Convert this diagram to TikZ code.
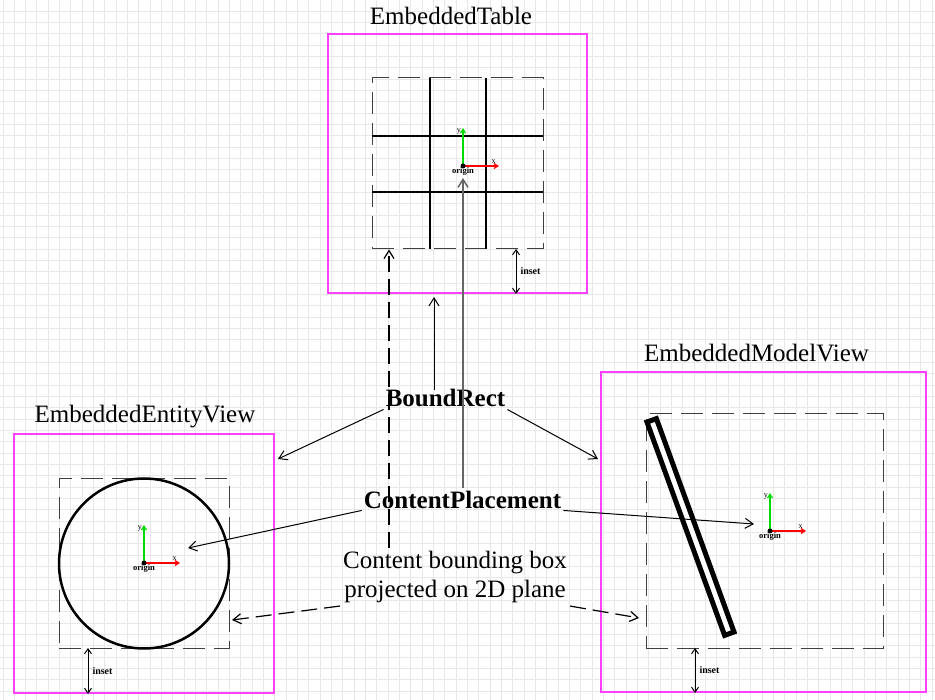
\documentclass[tikz,border=0pt]{standalone}
\usepackage{fontspec}
\setmainfont{Liberation Serif}
\usepackage{xcolor}
\usetikzlibrary{arrows.meta}
\definecolor{mypink}{RGB}{255,64,255}
\definecolor{mygreen}{RGB}{0,220,0}
\definecolor{mygrid}{RGB}{232,232,232}

\tikzset{
  gridln/.style={draw=mygrid,line width=1},
  frame/.style={draw=mypink,line width=2,inner sep=0},
  bbox/.style={draw=black!75,line width=1,dash pattern=on 22pt off 9pt,inner sep=0},
  ttl/.style={font=\fontsize{25}{30}\selectfont,anchor=base},
  big/.style={font=\bfseries\fontsize{25}{30}\selectfont,inner sep=2pt,anchor=base},
  arr/.style={-{Straight Barb[length=8pt,width=10pt]},line width=1},
  darr/.style={arr,dash pattern=on 16pt off 7pt,line width=1.2},
  inset/.style={{Straight Barb[length=5pt,width=7pt]}-{Straight Barb[length=5pt,width=7pt]},line width=1},
  insetlbl/.style={font=\bfseries\fontsize{10}{12}\selectfont,right,inner sep=4pt},
  xaxis/.style={-{Straight Barb[length=4pt,width=5pt]},red,line width=1.2},
  yaxis/.style={-{Straight Barb[length=4pt,width=5pt]},mygreen,line width=1.2},
  axlbl/.style={font=\fontsize{8}{9}\selectfont,text=black,inner sep=1.5pt},
  orglbl/.style={font=\bfseries\fontsize{8.5}{10}\selectfont,below,inner sep=1pt},
  cell/.style={line width=2.5},
  rod/.style={draw,line width=5,fill=white,minimum width=227,minimum height=10,inner sep=0}
}

\newcommand{\localaxes}[1]{%
  \draw[xaxis] (#1) -- ++(36,0) node[axlbl,pos=0.85,above] (#1x) {x};
  \draw[yaxis] (#1) -- ++(0,-38) node[axlbl,pos=0.9,left] (#1y) {y};
  \fill (#1) circle (2.5pt);
  \node[orglbl] (#1lbl) at (#1) {origin};
}

\begin{document}
\begin{tikzpicture}[x=1pt,y=-1pt]
\useasboundingbox (0,0) rectangle (935,700);
\foreach \i in {0,...,82} \draw[gridln] ({3+\i*11.333},0) -- ({3+\i*11.333},700);
\foreach \j in {0,...,61} \draw[gridln] (0,{\j*11.333}) -- (935,{\j*11.333});

\node[frame,minimum width=259,minimum height=259] (tbl) at (457.5,163.5) {};
\node[ttl] (tblname) at (451,25) {EmbeddedTable};
\node[bbox,minimum width=171,minimum height=171] (tblc) at (457.5,163.5) {};
\foreach \gx in {430,486} \draw[cell] (\gx,78) -- (\gx,249);
\foreach \gy in {136,192} \draw[cell] (372,\gy) -- (543,\gy);
\coordinate (tblO) at (463,166);
\localaxes{tblO}
\coordinate (tblI) at (516,249);
\draw[inset] (tblI) -- (tblI |- tbl.south) node[midway,insetlbl] (tblinset) {inset};

\node[frame,minimum width=260,minimum height=259] (ent) at (144,563.5) {};
\node[ttl] (entname) at (145,423) {EmbeddedEntityView};
\node[bbox,minimum width=170,minimum height=169] (entc) at (144,563.5) {};
\node[draw,circle,line width=2.5,minimum size=170,inner sep=0] (ball) at (144,563.5) {};
\coordinate (entO) at (144,563);
\localaxes{entO}
\coordinate (entI) at (88,648);
\draw[inset] (entI) -- (entI |- ent.south) node[midway,insetlbl] (entinset) {inset};

\node[frame,minimum width=325,minimum height=320] (mdl) at (763.5,532) {};
\node[ttl] (mdlname) at (756.5,362) {EmbeddedModelView};
\node[bbox,minimum width=237,minimum height=234] (mdlc) at (764.5,531) {};
\node[rod,rotate=-70] (stick) at (690.5,527) {};
\coordinate (mdlO) at (770,531);
\localaxes{mdlO}
\coordinate (mdlI) at (695,648);
\draw[inset] (mdlI) -- (mdlI |- mdl.south) node[midway,insetlbl] (mdlinset) {inset};

\node[big] (br) at (445.5,407) {BoundRect};
\node[big] (cp) at (462.5,508) {ContentPlacement};
\node[font=\fontsize{25}{29}\selectfont,align=center,inner sep=3pt] (bb) at (455,577) {Content bounding box\\projected on 2D plane};

\coordinate (brUp) at (434,297);
\coordinate (brL) at (278,459);
\coordinate (brR) at (598,459);
\draw[arr,shorten <=-3pt] (br.north -| brUp) -- (brUp);
\draw[arr] (br.south west) -- (brL);
\draw[arr] (br.south east) -- (brR);

\coordinate (cpL) at (188,548);
\coordinate (cpR) at (754,524);
\draw[arr,black!60,line width=1.5,shorten >=12pt] (cp.north -| tblO) -- (tblO);
\draw[arr] (cp.south west) -- (cpL);
\draw[arr] (cp.south east) -- (cpR);

\coordinate (bbUp) at (389,250);
\coordinate (bbL) at (232,620);
\coordinate (bbR) at (639,618);
\draw[darr] (bb.north -| bbUp) -- (tblc.south -| bbUp);
\draw[darr] (bb.south west) -- (bbL);
\draw[darr] (bb.south east) -- (bbR);
\end{tikzpicture}
\end{document}
